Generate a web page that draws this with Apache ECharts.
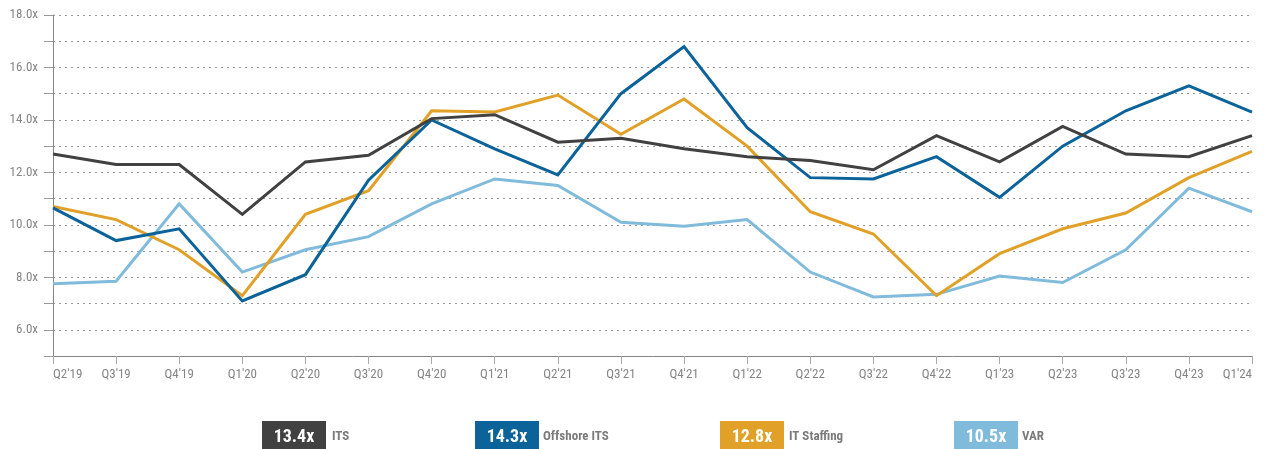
<!DOCTYPE html>
<html>
<head>
<meta charset="utf-8">
<script src="https://cdn.jsdelivr.net/npm/echarts@6/dist/echarts.min.js"></script>
<style>
  html, body { margin: 0; padding: 0; background: #fff; }
  #chart { width: 1265px; height: 449px; }
</style>
</head>
<body>
<div id="chart"></div>
<script>
const quarters = ["Q2'19", "Q3'19", "Q4'19", "Q1'20", "Q2'20", "Q3'20", "Q4'20", "Q1'21", "Q2'21", "Q3'21",
  "Q4'21", "Q1'22", "Q2'22", "Q3'22", "Q4'22", "Q1'23", "Q2'23", "Q3'23", "Q4'23", "Q1'24"];

const its = [12.7, 12.3, 12.3, 10.4, 12.4, 12.65, 14.05, 14.2, 13.15, 13.3,
  12.9, 12.6, 12.45, 12.1, 13.4, 12.4, 13.75, 12.7, 12.6, 13.4];
const offshoreIts = [10.65, 9.4, 9.85, 7.1, 8.1, 11.7, 14.0, 12.9, 11.9, 15.0,
  16.8, 13.7, 11.8, 11.75, 12.6, 11.05, 13.0, 14.35, 15.3, 14.3];
const itStaffing = [10.7, 10.2, 9.05, 7.3, 10.4, 11.3, 14.35, 14.3, 14.95, 13.45,
  14.8, 13.0, 10.5, 9.65, 7.3, 8.9, 9.85, 10.45, 11.8, 12.8];
const varVals = [7.75, 7.85, 10.8, 8.2, 9.05, 9.55, 10.8, 11.75, 11.5, 10.1,
  9.95, 10.2, 8.2, 7.25, 7.35, 8.05, 7.8, 9.05, 11.4, 10.5];

const seriesNames = ["ITS", "Offshore ITS", "IT Staffing", "VAR"];
const seriesData = [its, offshoreIts, itStaffing, varVals];
const colors = ["#414141", "#0b6399", "#e1a128", "#80bbdb"];

const FONT = "'Liberation Sans Narrow', 'Roboto Condensed', Roboto, sans-serif";
const GRAY = "#858585";

// legend boxes: [box x, label x]
const legendPos = [[262, 332], [475, 543], [720, 789], [954, 1022]];

const chart = echarts.init(document.getElementById("chart"), null, { renderer: "canvas" });

const legendGraphics = [];
seriesNames.forEach((name, i) => {
  const d = seriesData[i];
  const [bx, lx] = legendPos[i];
  legendGraphics.push({
    type: "rect",
    left: bx, top: 421,
    shape: { width: 64, height: 30 },
    style: { fill: colors[i] },
    silent: true,
  });
  legendGraphics.push({
    type: "text",
    x: bx + 32, y: 437,
    style: {
      text: d[d.length - 1].toFixed(1) + "x",
      fill: "#fff", font: "bold 18px " + FONT,
      align: "center", verticalAlign: "middle",
    },
    silent: true,
  });
  legendGraphics.push({
    type: "text",
    x: lx, y: 437,
    style: {
      text: name,
      fill: "#7a7a7a", font: "bold 13px " + FONT,
      align: "left", verticalAlign: "middle",
    },
    silent: true,
  });
});

chart.setOption({
  animation: false,
  grid: { left: 53, right: 13, top: 15, bottom: 93, containLabel: false },
  xAxis: {
    type: "category",
    data: quarters,
    boundaryGap: false,
    axisLine: { lineStyle: { color: GRAY, width: 1 } },
    axisTick: { show: true, length: 8, lineStyle: { color: "#aaa" } },
    axisLabel: {
      color: GRAY, fontSize: 13, fontFamily: FONT, margin: 12,
      interval: 0, alignMinLabel: "left", alignMaxLabel: "right",
    },
    splitLine: { show: false },
  },
  yAxis: {
    type: "value",
    min: 5, max: 18, interval: 1,
    axisLine: { show: true, lineStyle: { color: GRAY, width: 1 } },
    axisTick: { show: true, inside: false, length: 9, lineStyle: { color: "#999" } },
    axisLabel: {
      color: GRAY, fontSize: 13, fontFamily: FONT, margin: 15,
      formatter: (v) => (v % 2 === 0 ? v.toFixed(1) + "x" : ""),
    },
    splitLine: { show: true, lineStyle: { color: "#9a9a9a", type: [2, 4], width: 1 } },
  },
  series: seriesNames.map((name, i) => ({
    name,
    type: "line",
    data: seriesData[i],
    showSymbol: false,
    symbol: "none",
    lineStyle: { color: colors[i], width: 3, join: "miter" },
    z: 4 - i,
  })),
  graphic: legendGraphics,
});
</script>
</body>
</html>
